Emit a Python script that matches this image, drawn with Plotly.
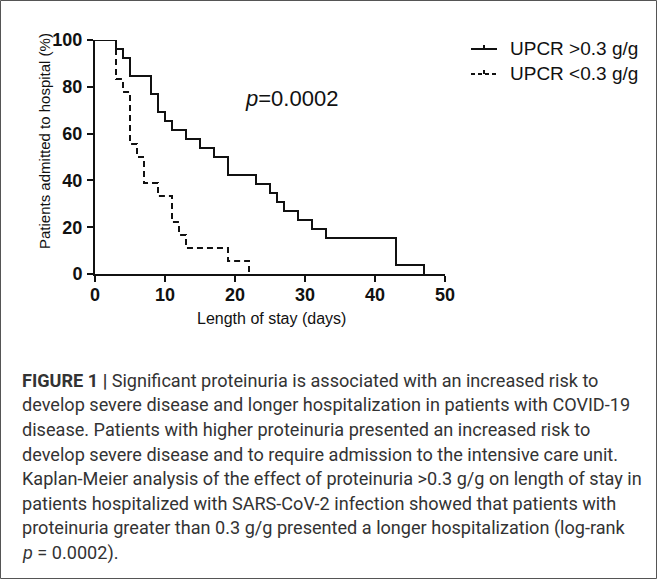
import plotly.graph_objects as go

# Kaplan-Meier steps (days, % still admitted)
high_days = [0, 3, 4, 5, 8, 9, 10, 11, 13, 15, 17, 19, 23, 25, 26, 27, 29, 31, 33, 43, 47]
high_pct = [100, 96.2, 92.3, 84.6, 76.9, 69.2, 65.4, 61.5, 57.7, 53.8, 50.0, 42.3, 38.5,
            34.6, 30.8, 26.9, 23.1, 19.2, 15.4, 3.8, 0]
low_days = [0, 3, 4, 5, 6, 7, 9, 11, 12, 13, 19, 22]
low_pct = [100, 83.3, 77.8, 55.6, 50.0, 38.9, 33.3, 22.2, 16.7, 11.1, 5.6, 0]

series_names = ["UPCR &gt;0.3 g/g", "UPCR &lt;0.3 g/g"]
x_ticks = [0, 10, 20, 30, 40, 50]
y_ticks = [0, 20, 40, 60, 80, 100]

caption_lines = [
    "<b>FIGURE 1 |</b> Significant proteinuria is associated with an increased risk to",
    "develop severe disease and longer hospitalization in patients with COVID-19",
    "disease. Patients with higher proteinuria presented an increased risk to",
    "develop severe disease and to require admission to the intensive care unit.",
    "Kaplan-Meier analysis of the effect of proteinuria &gt;0.3 g/g on length of stay in",
    "patients hospitalized with SARS-CoV-2 infection showed that patients with",
    "proteinuria greater than 0.3 g/g presented a longer hospitalization (log-rank",
    "<i>p</i> = 0.0002).",
]

W, H = 657, 579
L, R, T, B = 95, 212, 40, 305
pw, ph = W - L - R, H - T - B


def px_x(p):
    return (p - L) / pw


def px_y(p):
    return (H - B - p) / ph


INK = "#111111"
fig = go.Figure()
fig.add_trace(go.Scatter(x=high_days, y=high_pct, mode="lines", line_shape="hv",
                         name=series_names[0], cliponaxis=False, showlegend=False,
                         line=dict(color=INK, width=2)))
fig.add_trace(go.Scatter(x=low_days, y=low_pct, mode="lines", line_shape="hv",
                         name=series_names[1], cliponaxis=False, showlegend=False,
                         line=dict(color=INK, width=2, dash="6px,4px")))

tickfont = dict(family="Liberation Sans, Arial, sans-serif", size=18, color=INK, weight="bold")
fig.update_xaxes(range=[0, 50], tickvals=x_ticks, showline=True, linecolor=INK, linewidth=2,
                 ticks="outside", ticklen=6, tickwidth=2, tickcolor=INK, tickfont=tickfont,
                 ticklabelstandoff=-3,
                 showgrid=False, zeroline=False, fixedrange=True)
fig.update_yaxes(range=[0, 100], tickvals=y_ticks, showline=True, linecolor=INK, linewidth=2,
                 ticks="outside", ticklen=6, tickwidth=2, tickcolor=INK, tickfont=tickfont,
                 ticklabelstandoff=1,
                 showgrid=False, zeroline=False, fixedrange=True)

annots = []
annots.append(dict(text="Patients admitted to hospital (%)", xref="paper", yref="paper",
                   x=px_x(44), y=px_y(141), xanchor="center", yanchor="middle",
                   textangle=-90, showarrow=False,
                   font=dict(family="Liberation Sans, Arial", size=15, color=INK)))
annots.append(dict(text="Length of stay (days)", xref="paper", yref="paper",
                   x=px_x(271), y=px_y(318), xanchor="center", yanchor="middle", showarrow=False,
                   font=dict(family="Liberation Sans, Arial", size=16, color=INK)))
annots.append(dict(text="<i>p</i>=0.0002", x=28.1, y=75.2, xref="x", yref="y", showarrow=False,
                   xanchor="center", yanchor="middle",
                   font=dict(family="Liberation Sans, Arial", size=22, color=INK)))
for i, line in enumerate(caption_lines):
    annots.append(dict(text=line, xref="paper", yref="paper", x=px_x(20), y=px_y(380 + 24.7 * i),
                       xanchor="left", yanchor="middle", showarrow=False,
                       font=dict(family="Roboto, Arial", size=18.1, color="#333333")))

shapes = [dict(type="rect", xref="paper", yref="paper", x0=px_x(0.5), x1=px_x(656.5),
               y0=px_y(578.5), y1=px_y(0.5), line=dict(color="#555555", width=1))]

# manual legend
legend_rows = [48, 73]
legend_dash = ["solid", "4px,3px"]
for name, row, dash in zip(series_names, legend_rows, legend_dash):
    shapes.append(dict(type="line", xref="paper", yref="paper", x0=px_x(471), x1=px_x(497),
                       y0=px_y(row + 1), y1=px_y(row + 1), line=dict(color=INK, width=2, dash=dash)))
    shapes.append(dict(type="line", xref="paper", yref="paper", x0=px_x(484), x1=px_x(484),
                       y0=px_y(row + 1), y1=px_y(row - 3), line=dict(color=INK, width=2)))
    annots.append(dict(text=name, xref="paper", yref="paper", x=px_x(508), y=px_y(row),
                       xanchor="left", yanchor="middle", showarrow=False,
                       font=dict(family="Liberation Sans, Arial", size=19, color=INK)))

fig.update_layout(
    width=W, height=H, margin=dict(l=L, r=R, t=T, b=B, autoexpand=False),
    paper_bgcolor="white", plot_bgcolor="white",
    annotations=annots, shapes=shapes, showlegend=False,
)
fig.write_html("out.html", config={"displayModeBar": False},
               post_script="document.body.style.margin='0px';document.body.style.overflow='hidden';")
